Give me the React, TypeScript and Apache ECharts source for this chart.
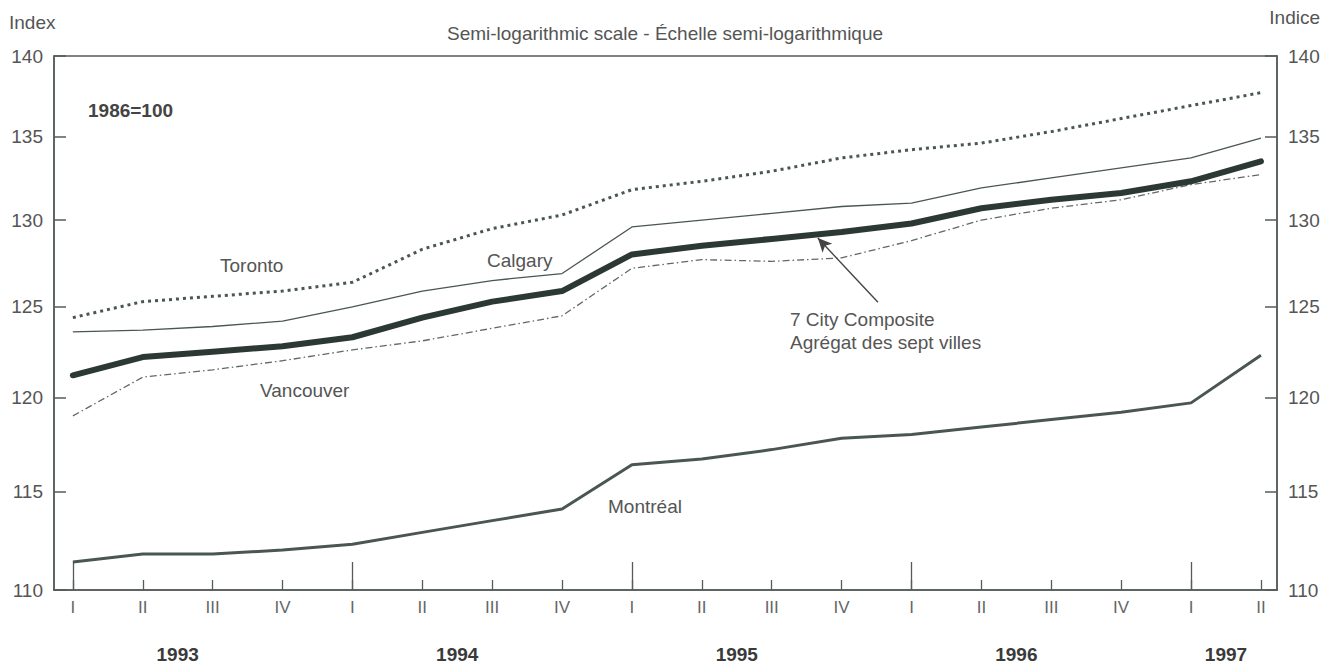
import React, { useEffect, useRef } from "react";
import * as echarts from "echarts";

const quarters = ["I", "II", "III", "IV", "I", "II", "III", "IV", "I", "II", "III", "IV", "I", "II", "III", "IV", "I", "II"];
const years = ["1993", "1994", "1995", "1996", "1997"];
const yearCenters = [1.5, 5.5, 9.5, 13.5, 16.5];
const yearStarts = [0, 4, 8, 12, 16];
const yTicks = [110, 115, 120, 125, 130, 135, 140];

const toronto = [124.4, 125.3, 125.6, 125.9, 126.4, 128.3, 129.5, 130.3, 131.8, 132.3, 132.9, 133.7, 134.2, 134.6, 135.3, 136.1, 136.9, 137.7];
const calgary = [123.6, 123.7, 123.9, 124.2, 125.0, 125.9, 126.5, 126.9, 129.6, 130.0, 130.4, 130.8, 131.0, 131.9, 132.5, 133.1, 133.7, 134.9];
const composite = [121.2, 122.2, 122.5, 122.8, 123.3, 124.4, 125.3, 125.9, 128.0, 128.5, 128.9, 129.3, 129.8, 130.7, 131.2, 131.6, 132.3, 133.5];
const vancouver = [119.0, 121.1, 121.5, 122.0, 122.6, 123.1, 123.8, 124.5, 127.2, 127.7, 127.6, 127.8, 128.8, 130.0, 130.7, 131.2, 132.1, 132.7];
const montreal = [111.4, 111.8, 111.8, 112.0, 112.3, 112.9, 113.5, 114.1, 116.4, 116.7, 117.2, 117.8, 118.0, 118.4, 118.8, 119.2, 119.7, 122.3];

// arrow annotation anchor (quarter index, index value)
const arrowHead = [10.66, 128.95];
const arrowTail = [11.52, 125.26];

const FONT = '"Liberation Sans", Arial, Helvetica, sans-serif';
const AX = "#555b58";
const LINE = "#4a5652";

const toData = (arr: number[]) => arr.map((v, i) => [i, Math.log(v)]);

export default function App() {
  const ref = useRef<HTMLDivElement>(null);
  useEffect(() => {
    if (!ref.current) return;
    const chart = echarts.init(ref.current, null, { renderer: "svg" });
    const xMin = -0.27;
    const xMax = 17.23;
    const yMin = Math.log(110);
    const yMax = Math.log(140);
    const yVals = yTicks.map((v) => Math.log(v));
    const yFmt = (v: number) => String(Math.round(Math.exp(v)));
    const axisLine = { show: true, onZero: false, lineStyle: { color: AX, width: 1.5 } };
    const yAxisBase = (pos: "left" | "right") => ({
      type: "value",
      position: pos,
      min: yMin,
      max: yMax,
      axisLine,
      axisTick: { show: true, inside: true, length: 12, customValues: yVals, lineStyle: { color: AX, width: 1.5 } },
      axisLabel: {
        customValues: yVals,
        formatter: yFmt,
        margin: 11,
        fontSize: 19,
        fontFamily: FONT,
        color: "#555",
      },
      splitLine: { show: false },
    });
    const option: any = {
      animation: false,
      backgroundColor: "#fff",
      grid: {
        left: 54,
        right: 61,
        top: 56,
        bottom: 74,
        show: true,
        borderColor: AX,
        borderWidth: 1.5,
        containLabel: false,
        outerBoundsMode: "none",
      },
      xAxis: [
        {
          type: "value",
          position: "bottom",
          min: xMin,
          max: xMax,
          axisLine,
          axisTick: {
            show: true,
            inside: true,
            length: 10,
            customValues: quarters.map((_, i) => i),
            lineStyle: { color: AX, width: 1.3 },
          },
          axisLabel: {
            customValues: quarters.map((_, i) => i),
            formatter: (v: number) => quarters[Math.round(v)] ?? "",
            margin: 9,
            fontSize: 17,
            fontFamily: FONT,
            color: "#666",
          },
          splitLine: { show: false },
        },
        {
          type: "value",
          position: "bottom",
          min: xMin,
          max: xMax,
          axisLine: { show: false, onZero: false },
          axisTick: {
            show: true,
            inside: true,
            length: 28,
            customValues: yearStarts,
            lineStyle: { color: AX, width: 1.3 },
          },
          axisLabel: {
            customValues: yearCenters,
            formatter: (v: number) => {
              const k = yearCenters.findIndex((c) => Math.abs(c - v) < 0.01);
              return k >= 0 ? years[k] : "";
            },
            margin: 55,
            fontSize: 19,
            fontWeight: "bold",
            fontFamily: FONT,
            color: "#3a3a3a",
          },
          splitLine: { show: false },
        },
      ],
      yAxis: [yAxisBase("left"), yAxisBase("right")],
      series: [
        {
          name: "Toronto",
          type: "line",
          data: toData(toronto),
          showSymbol: false,
          lineStyle: { color: LINE, width: 3, type: [3, 4] },
          z: 3,
        },
        {
          name: "Calgary",
          type: "line",
          data: toData(calgary),
          showSymbol: false,
          lineStyle: { color: LINE, width: 1.3 },
          z: 3,
        },
        {
          name: "Vancouver",
          type: "line",
          data: toData(vancouver),
          showSymbol: false,
          lineStyle: { color: "#5f6a66", width: 1.3, type: [7, 3, 1.5, 3] },
          z: 3,
        },
        {
          name: "Montréal",
          type: "line",
          data: toData(montreal),
          showSymbol: false,
          lineStyle: { color: LINE, width: 3 },
          z: 3,
        },
        {
          name: "7 City Composite",
          type: "line",
          data: toData(composite),
          showSymbol: false,
          lineStyle: { color: "#2c3834", width: 6, cap: "round", join: "round" },
          z: 5,
          markLine: {
            silent: true,
            symbol: ["arrow", "none"],
            symbolSize: [10, 14],
            label: { show: false },
            lineStyle: { color: "#444", width: 1.4, type: "solid" },
            data: [
              [
                { coord: [arrowHead[0], Math.log(arrowHead[1])] },
                { coord: [arrowTail[0], Math.log(arrowTail[1])] },
              ],
            ],
          },
        },
      ],
      graphic: [
        { type: "text", x: 9, y: 22, style: { text: "Index", fontSize: 19, fontFamily: FONT, fill: "#555", align: "left", verticalAlign: "middle" } },
        { type: "text", x: 665, y: 33, style: { text: "Semi-logarithmic scale - Échelle semi-logarithmique", fontSize: 19, fontFamily: FONT, fill: "#555", align: "center", verticalAlign: "middle" } },
        { type: "text", x: 1320, y: 17, style: { text: "Indice", fontSize: 19, fontFamily: FONT, fill: "#555", align: "right", verticalAlign: "middle" } },
        { type: "text", x: 88, y: 110, style: { text: "1986=100", fontSize: 19, fontWeight: "bold", fontFamily: FONT, fill: "#444", align: "left", verticalAlign: "middle" } },
        { type: "text", x: 220, y: 265, style: { text: "Toronto", fontSize: 19, fontFamily: FONT, fill: "#555", align: "left", verticalAlign: "middle" } },
        { type: "text", x: 487, y: 260, style: { text: "Calgary", fontSize: 19, fontFamily: FONT, fill: "#555", align: "left", verticalAlign: "middle" } },
        { type: "text", x: 260, y: 390, style: { text: "Vancouver", fontSize: 19, fontFamily: FONT, fill: "#555", align: "left", verticalAlign: "middle" } },
        { type: "text", x: 608, y: 506, style: { text: "Montréal", fontSize: 19, fontFamily: FONT, fill: "#555", align: "left", verticalAlign: "middle" } },
        { type: "text", x: 790, y: 319, style: { text: "7 City Composite", fontSize: 19, fontFamily: FONT, fill: "#555", align: "left", verticalAlign: "middle" } },
        { type: "text", x: 790, y: 342, style: { text: "Agrégat des sept villes", fontSize: 19, fontFamily: FONT, fill: "#555", align: "left", verticalAlign: "middle" } },
      ],
    };
    chart.setOption(option);
    return () => chart.dispose();
  }, []);
  return (
    <div
      ref={ref}
      style={{ position: "fixed", left: 0, top: 0, width: 1338, height: 664, background: "#fff" }}
    />
  );
}
